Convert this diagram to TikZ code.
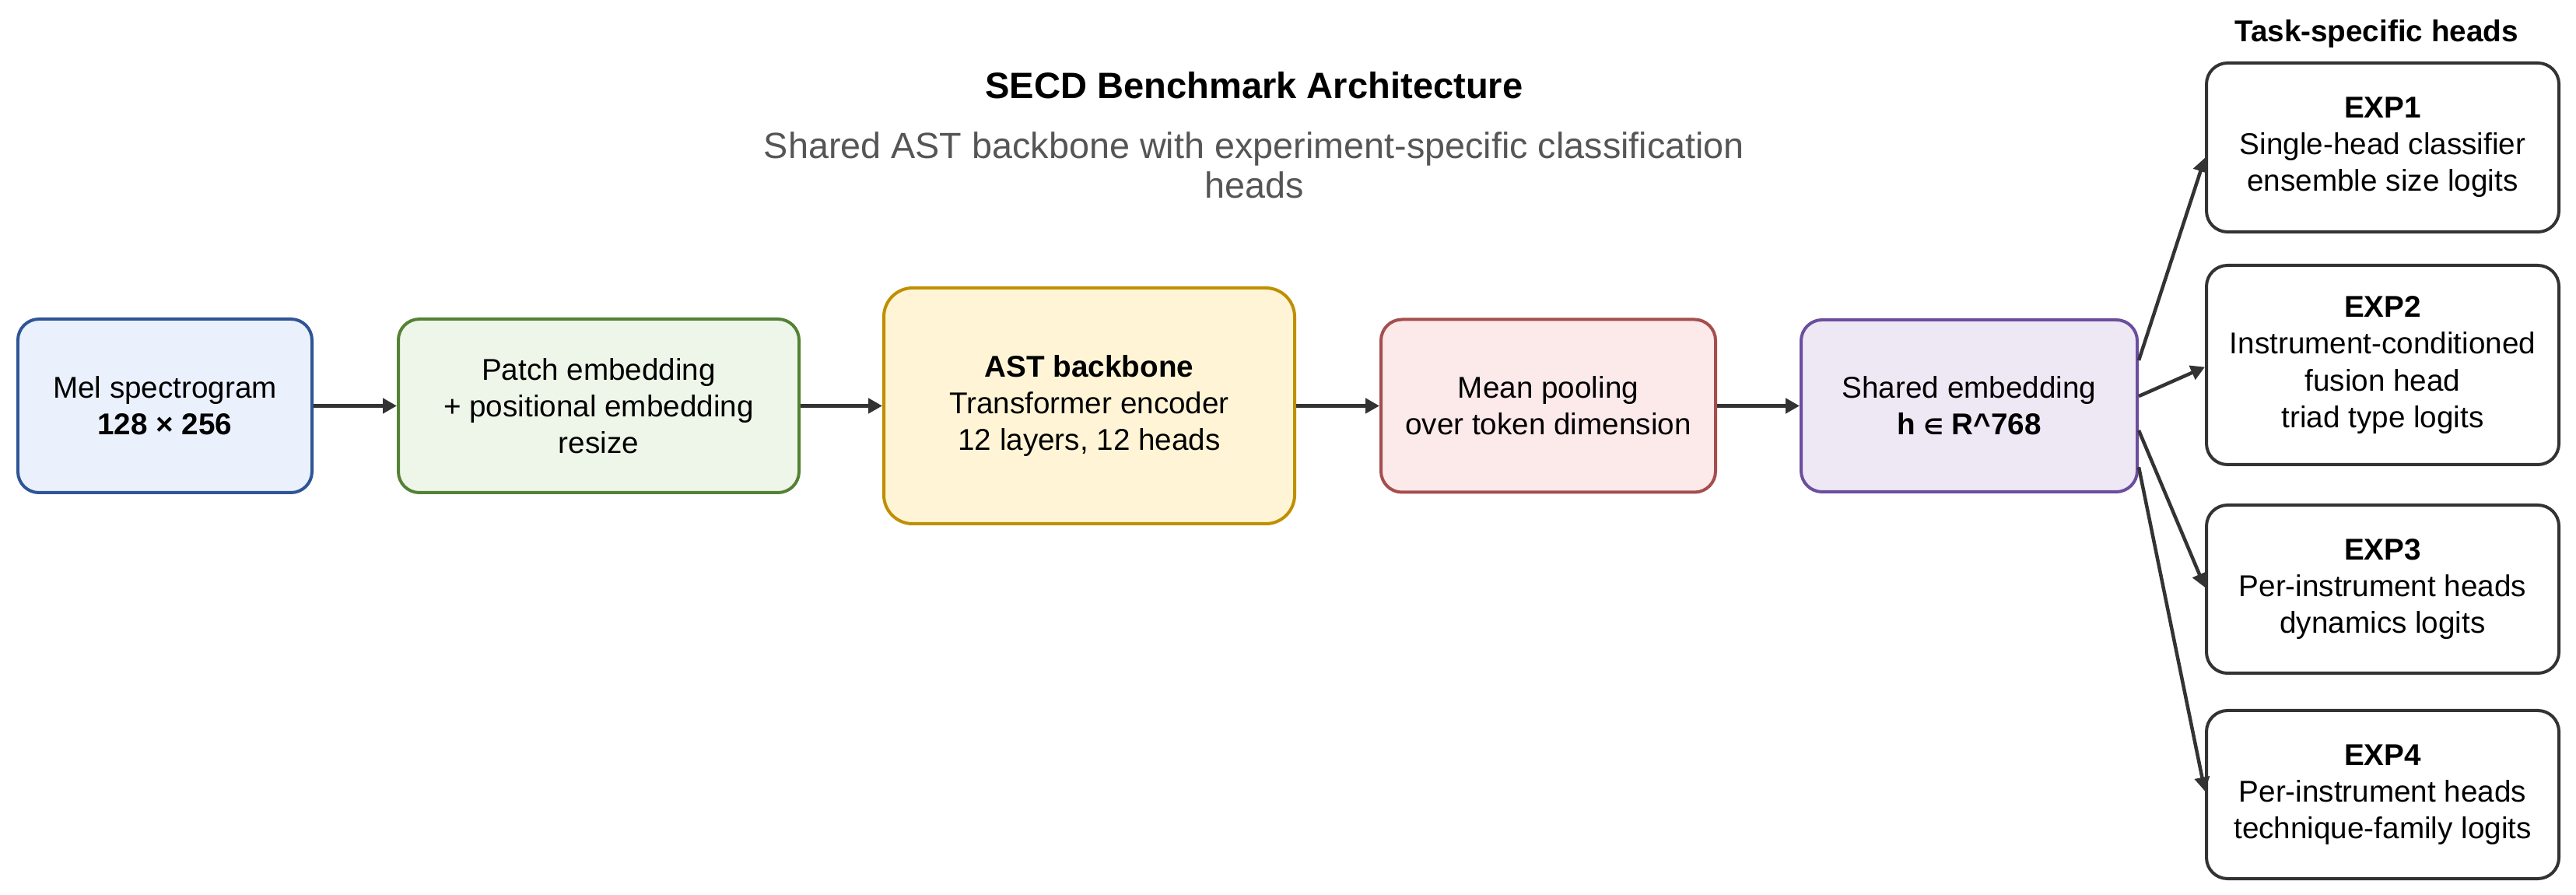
\documentclass[tikz,border=0pt]{standalone}
\usepackage{fontspec}
\setmainfont{Liberation Sans}
\newfontfamily\symfont{DejaVu Sans}
\usetikzlibrary{arrows.meta,calc}
\definecolor{melB}{HTML}{2F5597}
\definecolor{melF}{HTML}{EAF1FD}
\definecolor{patB}{HTML}{548235}
\definecolor{patF}{HTML}{EEF6E9}
\definecolor{astB}{HTML}{BF8F00}
\definecolor{astF}{HTML}{FFF5D6}
\definecolor{meanB}{HTML}{A64D4D}
\definecolor{meanF}{HTML}{FCE9EA}
\definecolor{shB}{HTML}{6B4E9E}
\definecolor{shF}{HTML}{EEE8F5}
\definecolor{expB}{HTML}{333333}
\definecolor{arrowc}{HTML}{333333}
\definecolor{subc}{HTML}{555555}
\begin{document}
\begin{tikzpicture}[
  box/.style={draw, rounded corners=0.27cm, line width=0.04cm, align=center, inner sep=0pt, font=\fontsize{11}{13.4}\selectfont, text=black},
  expbox/.style={box, draw=expB, fill=white, minimum width=4.53cm},
  arr/.style={draw=arrowc, line width=0.05cm, -{Triangle[length=0.18cm,width=0.19cm]}},
  harr/.style={draw=arrowc, line width=0.045cm, -{Triangle[length=0.18cm,width=0.19cm]}},
]
\useasboundingbox (0,0) rectangle (33.11,-11.5);

\node[font=\fontsize{13.4}{16}\selectfont\bfseries] (title) at (16.12,-1.10) {SECD Benchmark Architecture};
\node[font=\fontsize{13.3}{14.6}\selectfont, text=subc, align=center] (sub) at (16.12,-2.12) {Shared AST backbone with experiment-specific classification\\heads};
\node[font=\fontsize{11}{13}\selectfont\bfseries] (tsh) at (30.545,-0.44) {Task-specific heads};

\node[box, draw=melB, fill=melF, minimum width=3.78cm, minimum height=2.23cm] (mel) at (2.12,-5.215) {Mel spectrogram\\\textbf{128 × 256}};
\node[box, draw=patB, fill=patF, minimum width=5.15cm, minimum height=2.23cm] (patch) at (7.695,-5.215) {Patch embedding\\+ positional embedding\\resize};
\node[box, draw=astB, fill=astF, rounded corners=0.37cm, minimum width=5.28cm, minimum height=3.03cm] (ast) at (14.00,-5.215) {\textbf{AST backbone}\\Transformer encoder\\12 layers, 12 heads};
\node[box, draw=meanB, fill=meanF, minimum width=4.30cm, minimum height=2.22cm] (mean) at (19.90,-5.215) {Mean pooling\\over token dimension};
\node[box, draw=shB, fill=shF, minimum width=4.32cm, minimum height=2.21cm] (sh) at (25.31,-5.215) {Shared embedding\\\textbf{h {\symfont\fontsize{8}{9}\selectfont ∈} R\^{}768}};

\node[expbox, minimum height=2.17cm] (e1) at (30.625,-1.895) {\textbf{EXP1}\\Single-head classifier\\ensemble size logits};
\node[expbox, minimum height=2.56cm] (e2) at (30.625,-4.69) {\textbf{EXP2}\\Instrument-conditioned\\fusion head\\triad type logits};
\node[expbox, minimum height=2.16cm] (e3) at (30.625,-7.57) {\textbf{EXP3}\\Per-instrument heads\\dynamics logits};
\node[expbox, minimum height=2.16cm] (e4) at (30.625,-10.21) {\textbf{EXP4}\\Per-instrument heads\\technique-family logits};

\draw[arr] (mel) -- (patch);
\draw[arr] (patch) -- (ast);
\draw[arr] (ast) -- (mean);
\draw[arr] (mean) -- (sh);

\coordinate (s1) at ($(sh.north east)!0.24!(sh.south east)$);
\coordinate (s2) at ($(sh.north east)!0.445!(sh.south east)$);
\coordinate (s3) at ($(sh.north east)!0.64!(sh.south east)$);
\coordinate (s4) at ($(sh.north east)!0.85!(sh.south east)$);
\coordinate (t1) at ($(e1.north west)!0.56!(e1.south west)$);
\coordinate (t2) at ($(e2.north west)!0.51!(e2.south west)$);
\coordinate (t3) at ($(e3.north west)!0.49!(e3.south west)$);
\coordinate (t4) at ($(e4.north west)!0.48!(e4.south west)$);
\draw[harr] (s1) -- (t1);
\draw[harr] (s2) -- (t2);
\draw[harr] (s3) -- (t3);
\draw[harr] (s4) -- (t4);
\end{tikzpicture}
\end{document}
